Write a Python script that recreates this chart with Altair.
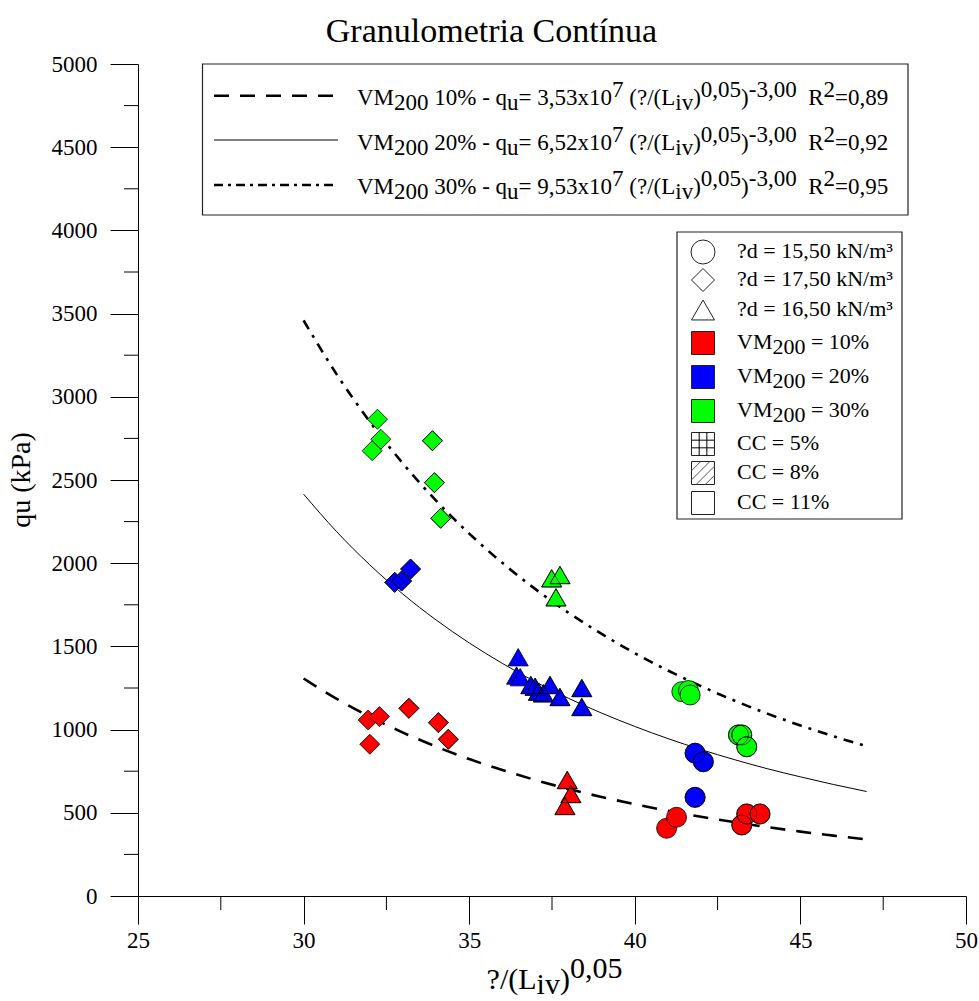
import altair as alt
import pandas as pd

FONT = "Liberation Serif"

# ---------------- data ----------------
pt_x = [31.95, 32.29, 32.00, 33.18, 34.07, 34.37, 37.96, 38.07, 37.89, 40.96, 41.26, 43.23, 43.38, 43.78,
        32.75, 32.96, 33.23, 36.48, 36.43, 36.54, 36.86, 36.99, 37.09, 37.44, 37.24, 37.74, 38.40, 38.40,
        41.82, 42.07, 41.82,
        32.23, 32.33, 32.07, 33.89, 33.95, 34.14, 37.49, 37.74, 37.62, 41.42, 41.62, 41.67, 43.13, 43.23, 43.38]
pt_qu = [1058, 1078, 912, 1128, 1042, 942, 697, 613, 541, 407, 473, 427, 493, 493,
         1885, 1893, 1965, 1435, 1325, 1315, 1268, 1258, 1228, 1268, 1218, 1196, 1250, 1136,
         858, 807, 593,
         2865, 2745, 2676, 2736, 2484, 2270, 1909, 1929, 1795, 1228, 1235, 1208, 968, 968, 897]
pt_vm = ["10%"] * 14 + ["20%"] * 17 + ["30%"] * 15
pt_shape = (["diamond"] * 6 + ["triangle"] * 3 + ["circle"] * 5
            + ["diamond"] * 3 + ["triangle"] * 11 + ["circle"] * 3
            + ["diamond"] * 6 + ["triangle"] * 3 + ["circle"] * 6)
pt_cc = (["11%"] * 3 + ["5%"] * 3 + ["8%"] * 3 + ["11%"] * 2 + ["5%"] * 3
         + ["8%"] * 3 + ["11%"] * 3 + ["8%"] * 6 + ["5%"] * 2 + ["8%"] * 3
         + ["11%"] * 3 + ["5%"] * 3 + ["8%"] * 3 + ["11%"] * 3 + ["5%"] * 3)

curve_x = [30, 31, 32, 33, 34, 35, 36, 37, 38, 39, 40, 41, 42, 43, 44, 45, 46, 47]
curve_vm10 = [1307, 1185, 1077, 982, 898, 823, 757, 697, 643, 595, 552, 512, 476, 444, 414, 387, 363, 340]
curve_vm20 = [2415, 2189, 1990, 1814, 1659, 1521, 1398, 1287, 1188, 1099, 1019, 946, 880, 820, 765, 716, 670, 628]
curve_vm30 = [3459, 3135, 2850, 2599, 2376, 2178, 2002, 1844, 1702, 1575, 1459, 1355, 1261, 1175, 1096, 1025, 960, 900]

x_major = [25, 30, 35, 40, 45, 50]
x_minor = [27.5, 32.5, 37.5, 42.5, 47.5]
y_major = [0, 500, 1000, 1500, 2000, 2500, 3000, 3500, 4000, 4500, 5000]
y_minor = [250, 750, 1250, 1750, 2250, 2750, 3250, 3750, 4250, 4750]

title_text = "Granulometria Contínua"
y_title = "qu (kPa)"
fit_rows = [
    [("VM", "n"), ("200", "b"), (" 10% - q", "n"), ("u", "b"), ("= 3,53x10", "n"), ("7", "p"),
     (" (?/(L", "n"), ("iv", "b"), (")", "n"), ("0,05", "p"), (")", "n"), ("-3,00", "p"),
     ("  R", "n"), ("2", "p"), ("=0,89", "n")],
    [("VM", "n"), ("200", "b"), (" 20% - q", "n"), ("u", "b"), ("= 6,52x10", "n"), ("7", "p"),
     (" (?/(L", "n"), ("iv", "b"), (")", "n"), ("0,05", "p"), (")", "n"), ("-3,00", "p"),
     ("  R", "n"), ("2", "p"), ("=0,92", "n")],
    [("VM", "n"), ("200", "b"), (" 30% - q", "n"), ("u", "b"), ("= 9,53x10", "n"), ("7", "p"),
     (" (?/(L", "n"), ("iv", "b"), (")", "n"), ("0,05", "p"), (")", "n"), ("-3,00", "p"),
     ("  R", "n"), ("2", "p"), ("=0,95", "n")],
]
key_rows = [
    [("?d = 15,50 kN/m³", "n")],
    [("?d = 17,50 kN/m³", "n")],
    [("?d = 16,50 kN/m³", "n")],
    [("VM", "n"), ("200", "b"), (" = 10%", "n")],
    [("VM", "n"), ("200", "b"), (" = 20%", "n")],
    [("VM", "n"), ("200", "b"), (" = 30%", "n")],
    [("CC = 5%", "n")],
    [("CC = 8%", "n")],
    [("CC = 11%", "n")],
]
x_title = [("?/(L", "n"), ("iv", "b"), (")", "n"), ("0,05", "p")]

# ---------------- layout helpers ----------------
W, H = 828, 832
ADV = {' ': 250, '%': 833, '(': 333, ')': 333, ',': 250, '-': 333, '/': 278, '=': 564, '?': 444,
       'x': 500, 'q': 500, 'u': 500, 'i': 278, 'v': 500, 'L': 611, 'R': 667, 'V': 722, 'M': 889,
       'C': 667, 'd': 500, 'k': 500, 'N': 722, 'm': 778, '³': 300, '²': 300}
for _d in "0123456789":
    ADV[_d] = 500


def lay(segs, x0, y0, fs, sub, sup):
    out = []
    x = x0
    for txt, kind in segs:
        dy = {"n": 0, "b": sub, "p": sup}[kind]
        lead = len(txt) - len(txt.lstrip(" "))
        out.append({"tx": x + lead * 0.25 * fs, "ty": y0 + dy, "tt": txt.strip(), "fs": fs})
        x += sum(ADV.get(c, 500) for c in txt) / 1000 * fs
    return out


texts = []
fit_base = [41, 85.5, 130]
for segs, yb in zip(fit_rows, fit_base):
    texts += lay(segs, 219, yb, 23, 5, -8)
key_y = [188, 216, 246, 279, 313, 347, 380, 409, 439]
for segs, yc in zip(key_rows, key_y):
    texts += lay(segs, 599, yc + 6, 22, 5, -8)
xt_fs = 30
xt_w = sum(sum(ADV[c] for c in t) for t, _ in x_title) / 1000 * xt_fs
texts += lay(x_title, 416.5 - xt_w / 2, 925, xt_fs, 5, -11)
text_df = pd.DataFrame(texts)

# ---------------- scales / axes ----------------
xs = alt.Scale(domain=[25, 50], nice=False, zero=False)
ys = alt.Scale(domain=[0, 5000], nice=False, zero=False)
x_axis = alt.Axis(values=x_major, tickSize=28, labelPadding=5, labelFont=FONT, labelFontSize=23,
                  labelColor="black", tickColor="black", domainColor="black", grid=False, title=None,
                  labelFlush=False, labelOverlap=False, format="d")
y_axis = alt.Axis(values=y_major, tickSize=28, labelPadding=13, labelFont=FONT, labelFontSize=23,
                  labelColor="black", tickColor="black", domainColor="black", grid=False, title=None,
                  labelFlush=False, labelOverlap=False, format="d")

# ---------------- curves ----------------
def curve(vals, dash, width):
    df = pd.DataFrame({"x": curve_x, "qu": vals})
    kw = dict(color="black", strokeWidth=width, interpolate="monotone")
    if dash:
        kw["strokeDash"] = dash
    return alt.Chart(df).mark_line(**kw).encode(
        x=alt.X("x:Q", scale=xs, axis=x_axis), y=alt.Y("qu:Q", scale=ys, axis=y_axis))


c10 = curve(curve_vm10, [15, 11], 2.6)
c20 = curve(curve_vm20, None, 1)
c30 = curve(curve_vm30, [10, 7, 3, 7], 2.6)

# ---------------- points ----------------
pts = pd.DataFrame({"x": pt_x, "qu": pt_qu, "vm": pt_vm, "shape": pt_shape, "cc": pt_cc})
shape_dom = ["circle", "diamond", "triangle"]
points = alt.Chart(pts).mark_point(filled=True, opacity=1, stroke="black", strokeWidth=0.8, size=400).encode(
    x=alt.X("x:Q", scale=xs, axis=x_axis),
    y=alt.Y("qu:Q", scale=ys, axis=y_axis),
    fill=alt.Fill("vm:N", scale=alt.Scale(domain=["10%", "20%", "30%"], range=["#ff0000", "#0000ff", "#00ff00"]),
                  legend=None),
    shape=alt.Shape("shape:N", scale=alt.Scale(domain=shape_dom, range=["circle", "diamond", "triangle-up"]),
                    legend=None),
)

grid_paths = ["M0,-1L0,1M-1,0L1,0", "M0,-1L0,1M-1,0L1,0", "M0,-0.866L0,0.866M-0.5,0L0.5,0"]
hatch_paths = ["M0.964,-0.264L-0.264,0.964M0.707,-0.707L-0.707,0.707M0.264,-0.964L-0.964,0.264",
               "M0.75,-0.25L-0.25,0.75M0.5,-0.5L-0.5,0.5M0.25,-0.75L-0.75,0.25",
               "M-0.5,0L0.134,-0.634M0.427,-0.127L-0.566,0.866M0.72,0.38L0.234,0.866"]


def overlay(cc, paths):
    return alt.Chart(pts).transform_filter(alt.datum.cc == cc).mark_point(
        filled=False, opacity=0.75, stroke="black", strokeWidth=0.8, size=400).encode(
        x=alt.X("x:Q", scale=xs, axis=x_axis),
        y=alt.Y("qu:Q", scale=ys, axis=y_axis),
        shape=alt.Shape("shape:N", scale=alt.Scale(domain=shape_dom, range=paths), legend=None),
    )


ov_grid = overlay("5%", grid_paths)
ov_hatch = overlay("8%", hatch_paths)

# ---------------- minor ticks ----------------
ymin = alt.Chart(pd.DataFrame({"v": y_minor})).mark_rule(color="black", strokeWidth=1).encode(
    y=alt.Y("v:Q", scale=ys, axis=y_axis), x=alt.value(-14), x2=alt.value(0))
xmin = alt.Chart(pd.DataFrame({"v": x_minor})).mark_rule(color="black", strokeWidth=1).encode(
    x=alt.X("v:Q", scale=xs, axis=x_axis), y=alt.value(H), y2=alt.value(H + 14))

one = pd.DataFrame({"a": [0]})

# ---------------- legend boxes ----------------
box1 = alt.Chart(one).mark_rect(fill="white", stroke="#222222", strokeWidth=1.2).encode(
    x=alt.value(64.5), x2=alt.value(770), y=alt.value(0), y2=alt.value(151))
box2 = alt.Chart(one).mark_rect(fill="white", stroke="#222222", strokeWidth=1.2).encode(
    x=alt.value(539), x2=alt.value(764), y=alt.value(168), y2=alt.value(455))

samp_y = [31.7, 76, 121]
s1 = alt.Chart(one).mark_rule(color="black", strokeWidth=2.6, strokeDash=[15, 11]).encode(
    x=alt.value(76), x2=alt.value(200), y=alt.value(samp_y[0]))
s2 = alt.Chart(one).mark_rule(color="black", strokeWidth=1).encode(
    x=alt.value(76), x2=alt.value(200), y=alt.value(samp_y[1]))
s3 = alt.Chart(one).mark_rule(color="black", strokeWidth=2.6, strokeDash=[9, 5, 3, 5]).encode(
    x=alt.value(76), x2=alt.value(200), y=alt.value(samp_y[2]))

key_sym = pd.DataFrame({
    "lx": [565] * 9,
    "ly": key_y,
    "shp": ["circle", "diamond", "triangle-up", "square", "square", "square", "square", "square", "square"],
    "fc": ["white", "white", "white", "#ff0000", "#0000ff", "#00ff00", "white", "white", "white"],
    "sz": [576, 529, 529, 529, 529, 529, 529, 529, 529],
})
key_marks = alt.Chart(key_sym).mark_point(filled=True, opacity=1, stroke="#222222", strokeWidth=1).encode(
    x=alt.X("lx:Q", scale=None, axis=None),
    y=alt.Y("ly:Q", scale=None, axis=None),
    shape=alt.Shape("shp:N", scale=None, legend=None),
    fill=alt.Fill("fc:N", scale=None, legend=None),
    size=alt.Size("sz:Q", scale=None, legend=None),
)
key_pat = pd.DataFrame({
    "lx": [565, 565],
    "ly": [key_y[6], key_y[7]],
    "shp": ["M-0.333,-1L-0.333,1M0.333,-1L0.333,1M-1,-0.333L1,-0.333M-1,0.333L1,0.333",
            "M1,0.2L0.2,1M1,-0.6L-0.6,1M0.6,-1L-1,0.6M-0.2,-1L-1,-0.2"],
    "sc": ["#000000", "#555555"],
})
key_pat_marks = alt.Chart(key_pat).mark_point(filled=False, opacity=1, strokeWidth=1, size=529).encode(
    x=alt.X("lx:Q", scale=None, axis=None),
    y=alt.Y("ly:Q", scale=None, axis=None),
    shape=alt.Shape("shp:N", scale=None, legend=None),
    stroke=alt.Stroke("sc:N", scale=None, legend=None),
)

# ---------------- texts ----------------
txt = alt.Chart(text_df).mark_text(align="left", baseline="alphabetic", font=FONT, color="black").encode(
    x=alt.X("tx:Q", scale=None, axis=None),
    y=alt.Y("ty:Q", scale=None, axis=None),
    text="tt:N",
    size=alt.Size("fs:Q", scale=None, legend=None),
)
title = alt.Chart(one).mark_text(text=title_text, font=FONT, fontSize=34, align="center",
                                 baseline="alphabetic", color="black").encode(
    x=alt.value(353.5), y=alt.value(-22))
ytitle = alt.Chart(one).mark_text(text=y_title, font=FONT, fontSize=28, align="center", baseline="middle",
                                  angle=270, color="black").encode(
    x=alt.value(-116), y=alt.value(416))

chart = alt.layer(
    c10, c20, c30, points, ov_grid, ov_hatch, ymin, xmin,
    box1, box2, s1, s2, s3, key_marks, key_pat_marks, txt, title, ytitle,
).properties(
    width=W, height=H,
    autosize=alt.AutoSizeParams(type="none"),
    padding={"left": 138, "top": 64, "right": 13, "bottom": 105},
    background="white",
).configure_view(stroke=None)

chart.save("out.html", embed_options={"renderer": "svg", "actions": False})
